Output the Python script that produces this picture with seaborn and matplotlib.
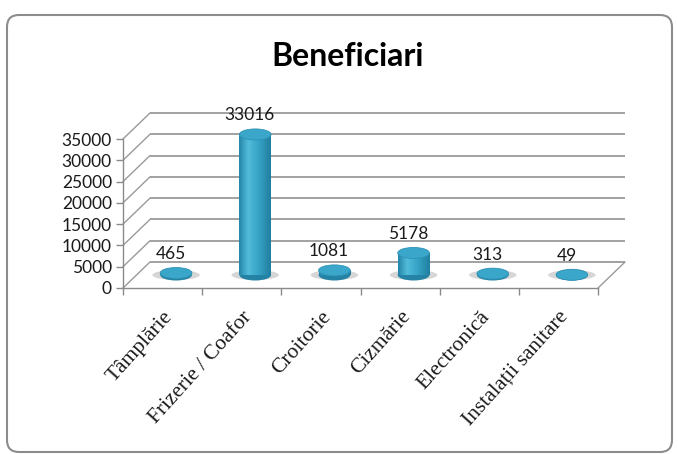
import matplotlib
matplotlib.use('Agg')
import matplotlib.pyplot as plt
from matplotlib.colors import LinearSegmentedColormap
from matplotlib.patches import Ellipse, FancyBboxPatch
import numpy as np
import pandas as pd
import seaborn as sns

# data
categories = ['Tâmplărie', 'Frizerie / Coafor', 'Croitorie', 'Cizmărie',
              'Electronică', 'Instalații sanitare']
values = [465, 33016, 1081, 5178, 313, 49]
y_ticks = [0, 5000, 10000, 15000, 20000, 25000, 30000, 35000]
title = 'Beneficiari'

W, H = 678, 454
DEPTH_PX = (27, 26)       # back wall offset in pixels
BAR_W = 0.40
CAP_PX = 11               # height of the cylinder caps in pixels
GRID = '#9a9a9a'

sns.set_theme(style='white')
plt.rcParams['font.family'] = ['Lato', 'DejaVu Sans']

fig = plt.figure(figsize=(W / 100, H / 100), dpi=100)
fig.patch.set_facecolor('white')
ax = fig.add_axes([123 / W, 166 / H, 475 / W, 149 / H])
ax.set_facecolor('none')

df = pd.DataFrame({'category': categories, 'value': values})
sns.barplot(data=df, x='category', y='value', width=BAR_W, color='#2E9DC0',
            ax=ax, zorder=3)

ax.set_xlim(-0.5, len(categories) - 0.5)
ax.set_ylim(0, y_ticks[-1])

# pixel -> data helpers
ux = (len(categories)) / ax.bbox.width
uy = y_ticks[-1] / ax.bbox.height
ddx, ddy = DEPTH_PX[0] * ux, DEPTH_PX[1] * uy
hdx, hdy = ddx / 2, ddy / 2
cap_h = CAP_PX * uy

x0, x1 = -0.5, len(categories) - 0.5

# back wall gridlines + left diagonals
for v in y_ticks:
    ax.plot([x0 + ddx, x1 + ddx], [v + ddy, v + ddy], color=GRID, lw=1.3,
            clip_on=False, zorder=1, solid_capstyle='butt')
    ax.plot([x0, x0 + ddx], [v, v + ddy], color=GRID, lw=1.0,
            clip_on=False, zorder=1)
# floor right edge
ax.plot([x1, x1 + ddx], [0, ddy], color=GRID, lw=1.0, clip_on=False, zorder=1)

# cylinder shading
cyl = LinearSegmentedColormap.from_list(
    'cyl', [(0, '#2385A8'), (0.28, '#52BCDA'), (0.6, '#37A5C8'), (1, '#217F9F')])
grad = np.linspace(0, 1, 64).reshape(1, -1)

for p in ax.patches:
    p.set_x(p.get_x() + hdx)
    p.set_y(hdy)
    p.set_edgecolor('none')
    bx, bw, bh = p.get_x(), p.get_width(), p.get_height()
    cx = bx + bw / 2
    # floor shadow
    ax.add_patch(Ellipse((cx, hdy), bw * 1.5, cap_h * 0.9, color='#7a7a7a',
                         alpha=0.3, lw=0, zorder=2, clip_on=False))
    # bottom cap
    ax.add_patch(Ellipse((cx, hdy), bw, cap_h, color='#2483A5', lw=0,
                         zorder=2.5, clip_on=False))
    img = ax.imshow(grad, cmap=cyl, aspect='auto', zorder=3.2,
                    extent=[bx, bx + bw, hdy, hdy + bh], interpolation='bicubic')
    img.set_clip_path(p)
    # top cap
    ax.add_patch(Ellipse((cx, hdy + bh), bw, cap_h, color='#3AA6C9', ec='#2E93B6',
                         lw=0.6, zorder=4, clip_on=False))

ax.set_xlim(x0, x1)
ax.set_ylim(0, y_ticks[-1])

# value labels
for i, v in enumerate(values):
    ax.annotate(str(v), xy=(i, v), xytext=(8, 32), textcoords='offset pixels',
                ha='center', va='center', fontsize=12.5, color='#1a1a1a', zorder=5)

# axes styling
sns.despine(ax=ax, top=True, right=True)
for s in ('left', 'bottom'):
    ax.spines[s].set_color('#8a8a8a')
    ax.spines[s].set_linewidth(1.0)
ax.set_yticks(y_ticks)
ax.set_yticklabels([str(t) for t in y_ticks], fontsize=12.5, color='#1a1a1a')
ax.tick_params(axis='y', length=5, width=1, color='#8a8a8a', pad=3, left=True)
ax.set_xticks(range(len(categories)))
ax.set_xticks(np.arange(-0.5, len(categories)), minor=True)
ax.tick_params(axis='x', which='major', length=0, pad=14)
ax.tick_params(axis='x', which='minor', length=5, width=1, color='#8a8a8a',
               bottom=True)
ax.set_xticklabels(categories, rotation=48, ha='right', va='top',
                   rotation_mode='anchor', fontsize=15.5, color='#1a1a1a',
                   family=['Liberation Serif', 'DejaVu Serif'])
ax.set_xlabel('')
ax.set_ylabel('')

fig.text(348 / W, 1 - 56 / H, title, ha='center', va='center', fontsize=23,
         fontweight='bold', color='black')

fig.patches.append(FancyBboxPatch((7, 2), 665, 437, boxstyle='round,pad=0,rounding_size=12',
                                  transform=None, fc='none', ec='#8c8c8c', lw=1.5))

fig.savefig('out.png', dpi=100, facecolor='white')
plt.close()
